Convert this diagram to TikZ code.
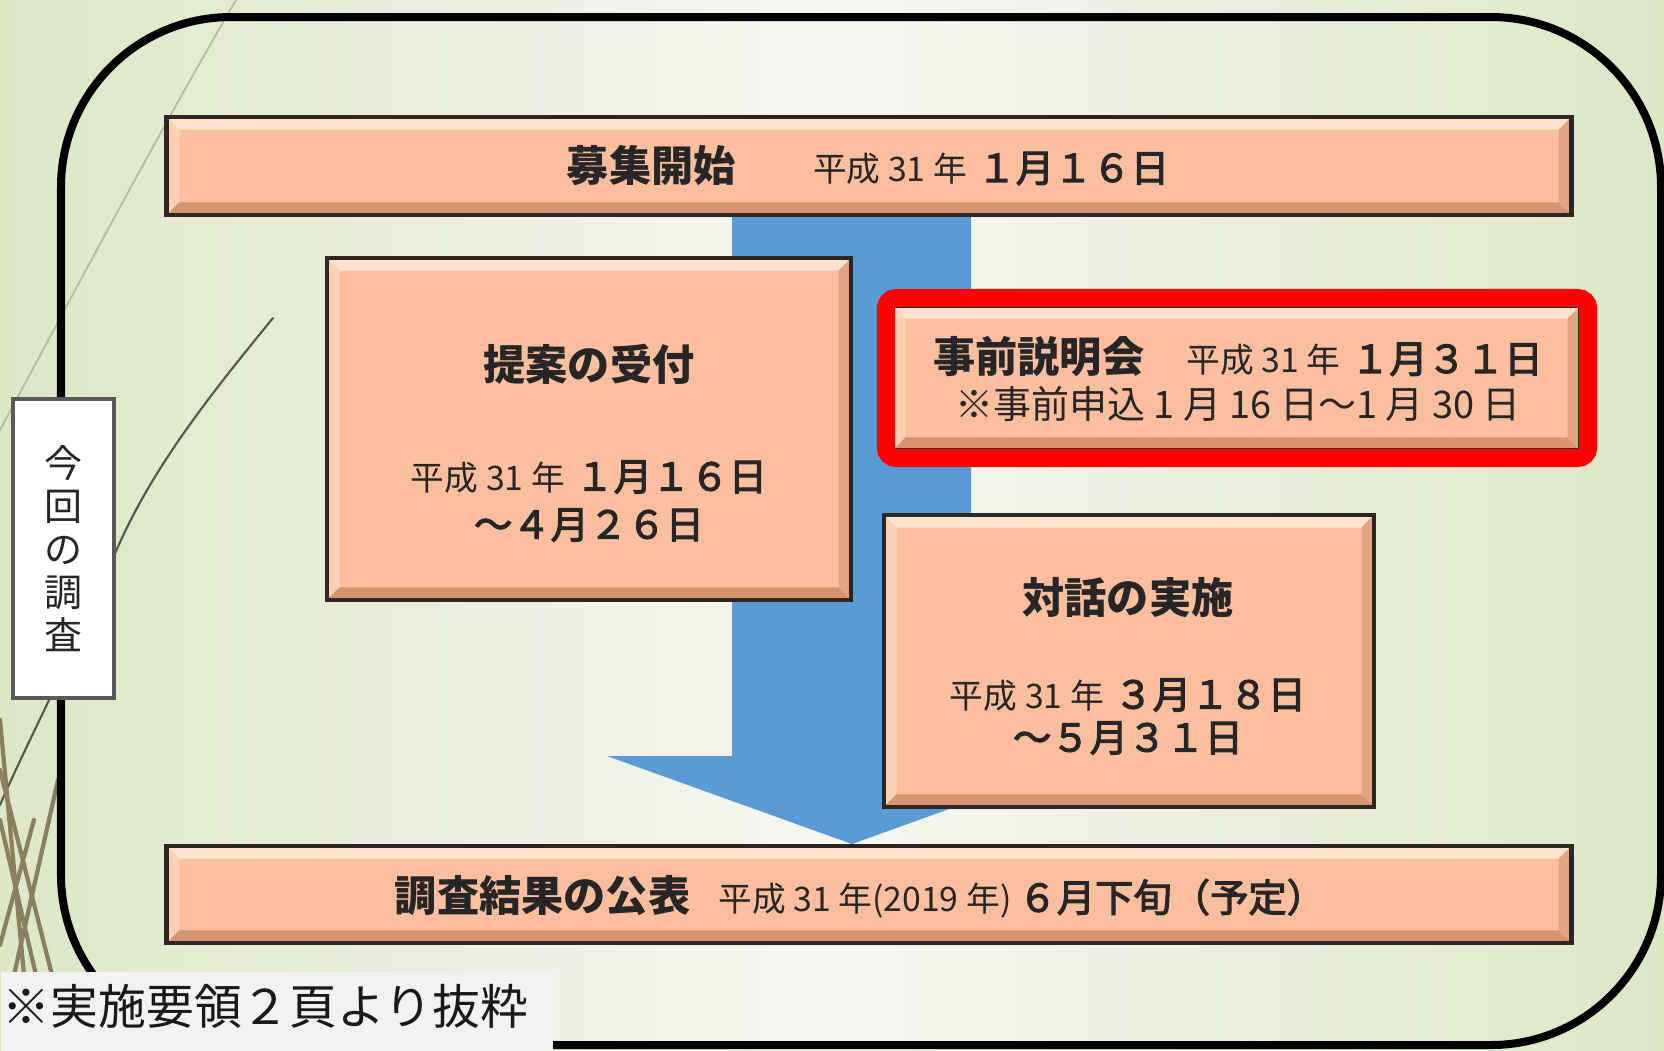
\documentclass[tikz,border=0pt]{standalone}
\usepackage{fontspec}
\newfontfamily\jp{Noto Sans CJK JP}
\newfontfamily\jpmed{Noto Sans CJK JP}[FakeBold=3]
\definecolor{salmon}{HTML}{FBBE9E}
\definecolor{bevlight}{HTML}{FEE3CE}
\definecolor{bevleft}{HTML}{FCD2B6}
\definecolor{bevdark}{HTML}{D6936F}
\definecolor{bevright}{HTML}{E2A483}
\definecolor{boxline}{HTML}{2E2620}
\definecolor{arrowblue}{HTML}{5B9BD5}
\definecolor{bgedge}{HTML}{DDE7C6}
\definecolor{bgmid}{HTML}{F6F7F2}
\definecolor{txtc}{HTML}{262626}
\definecolor{footgray}{HTML}{F2F2F2}
\definecolor{grassA}{HTML}{B5BAA0}
\definecolor{grassB}{HTML}{55584A}
\definecolor{grassC}{HTML}{8A7F5E}
\newcommand\ttl[1]{{\bfseries\fontsize{12}{14}\selectfont #1}}
\newcommand\smalldate[1]{{\fontsize{9.6}{11}\selectfont #1}}
\newcommand\bigdate[1]{{\jpmed\fontsize{10.9}{12}\selectfont #1}}
\newcommand\bvw{3.6pt}
\tikzset{
  bevelbox/.style={rectangle, draw=boxline, line width=1.2pt, fill=salmon, inner sep=0pt,
    path picture={
      \fill[bevlight] (path picture bounding box.north west) -- (path picture bounding box.north east)
        -- ([shift={(-\bvw,-\bvw)}]path picture bounding box.north east) -- ([shift={(\bvw,-\bvw)}]path picture bounding box.north west) -- cycle;
      \fill[bevleft] (path picture bounding box.north west) -- (path picture bounding box.south west)
        -- ([shift={(\bvw,\bvw)}]path picture bounding box.south west) -- ([shift={(\bvw,-\bvw)}]path picture bounding box.north west) -- cycle;
      \fill[bevdark] (path picture bounding box.south west) -- (path picture bounding box.south east)
        -- ([shift={(-\bvw,\bvw)}]path picture bounding box.south east) -- ([shift={(\bvw,\bvw)}]path picture bounding box.south west) -- cycle;
      \fill[bevright] (path picture bounding box.north east) -- (path picture bounding box.south east)
        -- ([shift={(-\bvw,\bvw)}]path picture bounding box.south east) -- ([shift={(-\bvw,-\bvw)}]path picture bounding box.north east) -- cycle;
    }},
  txt/.style={text=txtc, inner sep=0pt, font=\jp, align=center},
  grass/.style={line cap=round}
}
\begin{document}
\begin{tikzpicture}[x=0.01cm,y=-0.01cm]
\useasboundingbox (0,0) rectangle (1664,1050);
% background
\shade[left color=bgedge, right color=bgedge, middle color=bgmid] (0,0) rectangle (1664,1050);
% decorative grass lines
\draw[grass, grassA, line width=0.5pt] (236,0) .. controls (160,130) and (70,300) .. (0,430);
\draw[grass, grassB, line width=0.6pt] (273,318) .. controls (210,395) and (150,470) .. (114,556);
\draw[grass, grassB, line width=0.6pt] (50,698) .. controls (35,730) and (15,770) .. (0,805);
\draw[grass, grassC, line width=1.2pt] (0,770) -- (52,975);
\draw[grass, grassC, line width=1.2pt] (0,820) -- (36,975);
\draw[grass, grassC, line width=1.2pt] (34,820) -- (0,945);
\draw[grass, grassC, line width=1.2pt] (58,780) -- (14,975);
\draw[grass, grassC, line width=1.2pt] (0,720) -- (24,975);
% outer frame
\draw[line width=0.08cm, rounded corners=1.7cm] (61,17) rectangle (1661,1045);
% blue block arrow
\fill[arrowblue] (732,200) -- (971,200) -- (971,756) -- (1096,756) -- (852,844) -- (607,756) -- (732,756) -- cycle;
% boxes
\node[bevelbox, minimum width=5.24cm, minimum height=3.42cm] (teian) at (589,429) {};
\node[bevelbox, minimum width=6.87cm, minimum height=1.44cm] (setsumei) at (1236.5,378) {};
\node[draw=red, line width=0.18cm, rounded corners=3pt, minimum width=7.02cm, minimum height=1.60cm] (redframe) at (1237,378) {};
\node[bevelbox, minimum width=4.90cm, minimum height=2.92cm] (taiwa) at (1129,661) {};
\node[bevelbox, minimum width=14.04cm, minimum height=0.98cm] (start) at (869,166) {};
\node[bevelbox, minimum width=14.04cm, minimum height=0.97cm] (kouhyou) at (869,894.5) {};
% texts
\node[txt] (starttext) at (868,166) {\ttl{募集開始}\hspace{22pt}\smalldate{平成 31 年}\hspace{3pt}\bigdate{１月１６日}};
\node[txt] (teiantitle) at (589,364) {\ttl{提案の受付}};
\node[txt] (teiandate1) at (589,477) {\smalldate{平成 31 年}\hspace{3pt}\bigdate{１月１６日}};
\node[txt] (teiandate2) at (589,525) {\bigdate{～４月２６日}};
\node[txt] (setsumei1) at (1238,357) {\ttl{事前説明会}\hspace{12pt}\smalldate{平成 31 年}\hspace{3pt}\bigdate{１月３１日}};
\node[txt] (setsumei2) at (1238,404) {{\fontsize{10.8}{12}\selectfont ※事前申込 1 月 16 日～1 月 30 日}};
\node[txt] (taiwatitle) at (1128,597) {\ttl{対話の実施}};
\node[txt] (taiwadate1) at (1128,695) {\smalldate{平成 31 年}\hspace{3pt}\bigdate{３月１８日}};
\node[txt] (taiwadate2) at (1128,738) {\bigdate{～５月３１日}};
\node[txt] (kouhyoutext) at (860,897) {\ttl{調査結果の公表}\hspace{8pt}\smalldate{平成 31 年(2019 年)}\hspace{2pt}\bigdate{６月下旬（予定）}};
% left label
\node[draw=black!65, line width=1pt, fill=white, minimum width=1.01cm, minimum height=2.99cm, text=txtc, font=\jp\fontsize{10.8}{12.2}\selectfont, align=center, inner sep=0pt] (label) at (63.5,548.5) {今\\回\\の\\調\\査};
% footnote
\node[fill=footgray, minimum width=5.52cm, minimum height=0.79cm, anchor=north west, inner sep=0pt] (notebox) at (0,971) {};
\node[anchor=west, inner sep=0pt, text=black!90, font=\jp\fontsize{13.6}{16}\selectfont] (notetext) at (2,1006) {※実施要領２頁より抜粋};
\end{tikzpicture}
\end{document}
